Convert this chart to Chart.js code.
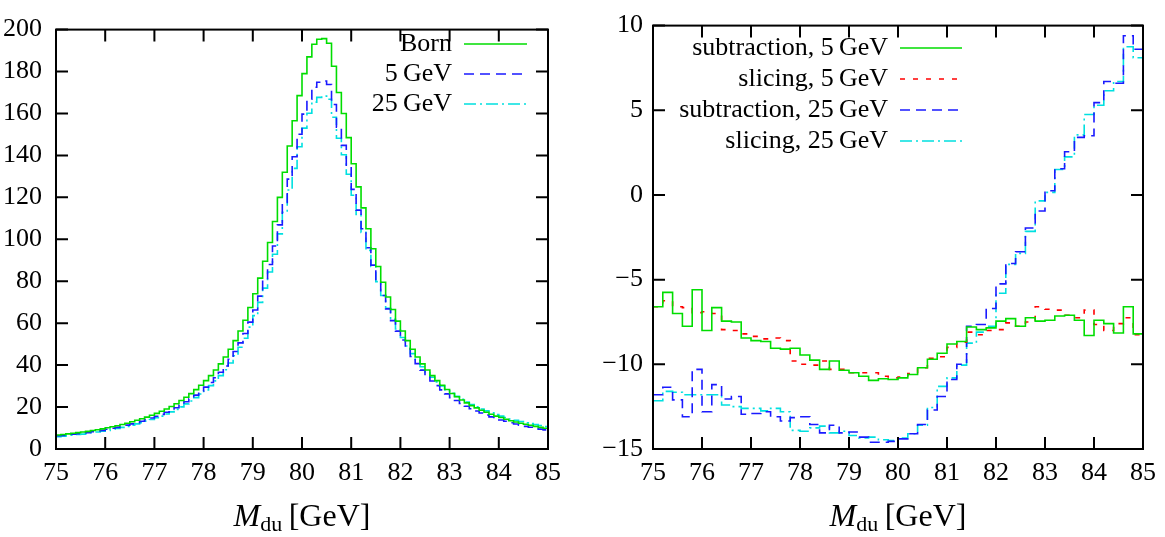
<!DOCTYPE html>
<html lang="en">
<head>
    <meta charset="UTF-8">
    <title>M_du distributions</title>
    <script src="https://cdn.jsdelivr.net/npm/chart.js"></script>
    <style>
        body { margin: 0; background: #fff; }
        .panel { position: absolute; top: 0; height: 537px; }
    </style>
</head>
<body>
    <div class="panel" style="left: 0; width: 582px;"><canvas id="leftChart"></canvas></div>
    <div class="panel" style="left: 582px; width: 583px;"><canvas id="rightChart"></canvas></div>

    <script>
        const FONT = "'Liberation Serif', 'DejaVu Serif', serif";

        // histogram binning: 0.1 GeV on the left, 0.2 GeV on the right
        const xMin = 75, xMax = 85;
        const leftEdges = Array.from({ length: 101 }, (_, i) => +(xMin + 0.1 * i).toFixed(1));
        const rightEdges = Array.from({ length: 51 }, (_, i) => +(xMin + 0.2 * i).toFixed(1));

        const xTicks = [75, 76, 77, 78, 79, 80, 81, 82, 83, 84, 85];
        const leftYTicks = [0, 20, 40, 60, 80, 100, 120, 140, 160, 180, 200];
        const rightYTicks = [-15, -10, -5, 0, 5, 10];

        // left panel: distributions
        const born = [6.7, 6.9, 7.2, 7.5, 7.8, 8.1, 8.4, 8.8, 9.2, 9.6,
            10.1, 10.6, 11.1, 11.7, 12.3, 13.0, 13.7, 14.4, 15.2, 16.1,
            17.0, 18.0, 19.1, 20.3, 21.6, 23.1, 24.7, 26.4, 28.3, 30.4,
            32.6, 35.0, 37.7, 40.6, 43.9, 47.6, 51.7, 56.3, 61.4, 67.5,
            74.0, 81.5, 89.5, 98.5, 108.5, 120.0, 132.0, 144.5, 156.5, 168.5,
            179.0, 187.0, 193.0, 195.4, 195.7, 193.5, 182.5, 170.0, 160.0, 148.5,
            136.0, 125.0, 115.0, 105.0, 95.5, 87.0, 79.5, 72.5, 66.5, 61.0,
            56.3, 51.7, 47.6, 43.9, 40.6, 37.7, 35.0, 32.6, 30.4, 28.4,
            26.5, 24.9, 23.4, 22.0, 20.7, 19.6, 18.5, 17.5, 16.6, 15.7,
            15.0, 14.2, 13.5, 12.9, 12.3, 11.8, 11.3, 10.8, 10.3, 9.9];
        const cut5 = [6.3, 6.5, 6.8, 7.0, 7.3, 7.6, 7.8, 8.2, 8.6, 8.9,
            9.4, 9.9, 10.3, 10.9, 11.4, 12.0, 12.6, 13.2, 14.0, 14.8,
            15.6, 16.5, 17.5, 18.5, 19.7, 21.0, 22.5, 24.0, 25.7, 27.6,
            29.5, 31.7, 34.0, 36.6, 39.6, 42.8, 46.5, 50.6, 55.1, 60.5,
            66.3, 72.9, 80.0, 88.0, 96.8, 106.9, 117.6, 128.7, 139.4, 150.1,
            159.7, 166.8, 172.5, 174.9, 175.5, 173.8, 164.3, 153.5, 144.8, 134.7,
            123.8, 113.9, 105.0, 96.0, 87.7, 80.1, 73.2, 66.8, 61.2, 56.2,
            52.0, 47.8, 44.1, 40.7, 37.6, 34.8, 32.4, 30.2, 28.2, 26.3,
            24.5, 23.1, 21.7, 20.4, 19.2, 18.1, 17.2, 16.2, 15.3, 14.4,
            13.8, 13.2, 12.5, 11.9, 11.3, 10.8, 10.4, 10.0, 9.5, 9.1];
        const cut25 = [5.9, 6.1, 6.4, 6.6, 6.9, 7.1, 7.4, 7.8, 8.1, 8.5,
            8.9, 9.4, 9.8, 10.3, 10.8, 11.4, 12.0, 12.6, 13.3, 14.1,
            14.9, 15.7, 16.7, 17.7, 18.9, 20.1, 21.5, 22.9, 24.5, 26.2,
            28.1, 30.2, 32.5, 35.0, 37.8, 41.0, 44.5, 48.5, 52.8, 58.1,
            63.6, 69.9, 76.7, 84.4, 92.9, 102.6, 112.9, 123.5, 133.8, 144.1,
            153.0, 160.1, 165.4, 167.7, 168.3, 166.8, 158.2, 148.2, 140.3, 131.0,
            121.0, 111.8, 103.3, 94.7, 87.0, 79.8, 73.2, 67.1, 61.8, 57.2,
            53.2, 49.1, 45.5, 42.2, 39.2, 36.5, 34.2, 32.0, 30.1, 28.3,
            26.6, 25.1, 23.7, 22.4, 21.2, 20.1, 19.1, 18.2, 17.3, 16.4,
            15.7, 15.0, 14.3, 13.7, 13.1, 12.5, 12.1, 11.7, 11.2, 10.7];

        // right panel: relative corrections
        const sub5 = [-6.6, -5.75, -7.0, -7.75, -5.6, -8.0, -6.65, -7.45, -7.5, -8.45,
            -8.6, -8.65, -9.05, -9.1, -9.05, -9.45, -9.75, -10.3, -9.8, -10.35,
            -10.5, -10.7, -10.95, -10.85, -10.9, -10.8, -10.6, -10.2, -9.7, -9.35,
            -8.8, -8.65, -7.8, -7.95, -7.85, -7.45, -7.3, -7.75, -7.25, -7.45,
            -7.4, -7.15, -7.1, -7.4, -8.3, -7.4, -7.6, -8.15, -6.6, -8.2];
        const slice5 = [-6.6, -6.25, -6.6, -6.65, -6.95, -6.9, -7.0, -7.95, -8.0, -8.2,
            -8.35, -8.5, -8.45, -8.6, -9.8, -10.0, -10.05, -9.8, -10.3, -10.3,
            -10.5, -10.5, -10.5, -10.7, -10.8, -10.75, -10.55, -10.2, -9.65, -9.55,
            -9.0, -8.7, -8.1, -8.25, -8.0, -7.95, -7.55, -7.75, -7.5, -6.6,
            -6.75, -6.8, -7.1, -7.25, -6.8, -7.65, -8.0, -7.6, -7.25, -8.25];
        const sub25 = [-11.8, -11.35, -12.1, -13.1, -10.3, -12.8, -11.2, -12.05, -11.9, -12.95,
            -12.9, -12.8, -13.1, -13.35, -13.15, -13.1, -13.55, -14.05, -13.6, -14.05,
            -14.0, -14.3, -14.6, -14.6, -14.55, -14.4, -14.1, -13.55, -12.7, -11.9,
            -10.9, -10.0, -7.75, -7.65, -6.7, -5.25, -4.05, -3.35, -1.95, -0.95,
            0.25, 1.55, 2.55, 3.4, 3.5, 5.45, 6.7, 6.6, 9.4, 8.6];
        const slice25 = [-12.15, -11.6, -11.65, -11.8, -11.8, -11.8, -11.8, -12.4, -12.5, -12.6,
            -12.6, -12.75, -12.6, -12.8, -13.9, -13.95, -13.75, -13.65, -14.05, -13.95,
            -14.2, -14.35, -14.3, -14.45, -14.5, -14.35, -14.1, -13.6, -12.55, -11.3,
            -10.8, -10.05, -8.75, -8.1, -7.75, -5.8, -4.1, -3.45, -2.15, -0.35,
            0.15, 1.5, 2.25, 3.55, 4.75, 5.3, 6.15, 6.7, 8.75, 8.1];

        const GREEN = '#00dd00', RED = '#ff0000', BLUE = '#1a1aff', CYAN = '#00e0e0';

        // histogram as step line: one point per left edge, plus closing point
        function steps(edges, values) {
            const pts = values.map((v, i) => ({ x: edges[i], y: v }));
            pts.push({ x: edges[edges.length - 1], y: values[values.length - 1] });
            return pts;
        }

        function histo(label, edges, values, color, dash) {
            return {
                label: label,
                data: steps(edges, values),
                borderColor: color,
                borderWidth: 1.6,
                borderDash: dash,
                stepped: 'before', // horizontal over the bin, then vertical at next edge
                pointRadius: 0,
                fill: false
            };
        }

        // gnuplot style: frame, inward ticks on all sides, key, axis title
        const gnuplotLook = {
            id: 'gnuplotLook',
            afterDraw(chart, args, opts) {
                const { ctx, chartArea: a, scales: { x, y } } = chart;
                ctx.save();
                ctx.strokeStyle = '#000';
                ctx.lineWidth = 2;
                ctx.beginPath();
                x.ticks.forEach(t => {
                    const px = x.getPixelForValue(t.value);
                    ctx.moveTo(px, a.bottom); ctx.lineTo(px, a.bottom - opts.tick);
                    ctx.moveTo(px, a.top); ctx.lineTo(px, a.top + opts.tick);
                });
                y.ticks.forEach(t => {
                    const py = y.getPixelForValue(t.value);
                    ctx.moveTo(a.left, py); ctx.lineTo(a.left + opts.tick, py);
                    ctx.moveTo(a.right, py); ctx.lineTo(a.right - opts.tick, py);
                });
                ctx.stroke();
                ctx.strokeRect(a.left, a.top, a.right - a.left, a.bottom - a.top);

                // key
                ctx.font = '26px ' + FONT;
                ctx.fillStyle = '#000';
                ctx.textAlign = 'right';
                ctx.textBaseline = 'middle';
                chart.data.datasets.forEach((ds, i) => {
                    const yy = opts.keyTop + i * opts.keyRow;
                    ctx.fillText(ds.label, opts.keyX, yy);
                    ctx.save();
                    ctx.strokeStyle = ds.borderColor;
                    ctx.lineWidth = ds.borderWidth;
                    ctx.setLineDash(ds.borderDash || []);
                    ctx.beginPath();
                    ctx.moveTo(opts.keyX + 12, yy);
                    ctx.lineTo(opts.keyX + 12 + opts.keyLen, yy);
                    ctx.stroke();
                    ctx.restore();
                });

                // x axis title: M_du [GeV]
                const parts = [
                    { t: 'M', f: 'italic 32px ' + FONT, dy: 0 },
                    { t: 'du', f: '22px ' + FONT, dy: 5 },
                    { t: '\u2009[GeV]', f: '32px ' + FONT, dy: 0 }
                ];
                let w = 0;
                parts.forEach(p => { ctx.font = p.f; p.w = ctx.measureText(p.t).width; w += p.w; });
                let px = (a.left + a.right) / 2 - w / 2;
                ctx.textAlign = 'left';
                ctx.textBaseline = 'alphabetic';
                parts.forEach(p => { ctx.font = p.f; ctx.fillText(p.t, px, 526 + p.dy); px += p.w; });
                ctx.restore();
            }
        };

        function makeOptions(yMin, yMax, yTicks, yWidth, padRight, yPad, key) {
            return {
                responsive: true,
                maintainAspectRatio: false,
                animation: false,
                layout: { padding: { top: 15, right: padRight, left: 0, bottom: 0 } },
                plugins: {
                    legend: { display: false },
                    tooltip: { enabled: false },
                    gnuplotLook: key
                },
                scales: {
                    x: {
                        type: 'linear',
                        min: xMin,
                        max: xMax,
                        afterBuildTicks: s => { s.ticks = xTicks.map(v => ({ value: v })); },
                        afterFit: s => { s.height = 88; },
                        grid: { display: false, drawTicks: false },
                        border: { display: false },
                        ticks: { color: '#000', padding: 9, font: { family: FONT, size: 26 } }
                    },
                    y: {
                        min: yMin,
                        max: yMax,
                        afterBuildTicks: s => { s.ticks = yTicks.map(v => ({ value: v })); },
                        afterFit: s => { s.width = yWidth; },
                        grid: { display: false, drawTicks: false },
                        border: { display: false },
                        ticks: {
                            color: '#000',
                            padding: yPad,
                            font: { family: FONT, size: 26 },
                            callback: v => String(v).replace('-', '\u2212')
                        }
                    }
                }
            };
        }

        new Chart(document.getElementById('leftChart'), {
            type: 'line',
            data: {
                datasets: [
                    histo('Born', leftEdges, born, GREEN, []),
                    histo('5\u2009GeV', leftEdges, cut5, BLUE, [10, 6]),
                    histo('25\u2009GeV', leftEdges, cut25, CYAN, [12, 4, 2, 4])
                ]
            },
            options: makeOptions(0, 200, leftYTicks, 56, 34, 14,
                { tick: 12, keyX: 452, keyTop: 44, keyRow: 30, keyLen: 63 }),
            plugins: [gnuplotLook]
        });

        new Chart(document.getElementById('rightChart'), {
            type: 'line',
            data: {
                datasets: [
                    histo('subtraction, 5\u2009GeV', rightEdges, sub5, GREEN, []),
                    histo('slicing, 5\u2009GeV', rightEdges, slice5, RED, [5, 8]),
                    histo('subtraction, 25\u2009GeV', rightEdges, sub25, BLUE, [10, 6]),
                    histo('slicing, 25\u2009GeV', rightEdges, slice25, CYAN, [12, 4, 2, 4])
                ]
            },
            options: makeOptions(-15, 10, rightYTicks, 71, 18, 10,
                { tick: 12, keyX: 306, keyTop: 48, keyRow: 31, keyLen: 62 }),
            plugins: [gnuplotLook]
        });
    </script>
</body>
</html>
